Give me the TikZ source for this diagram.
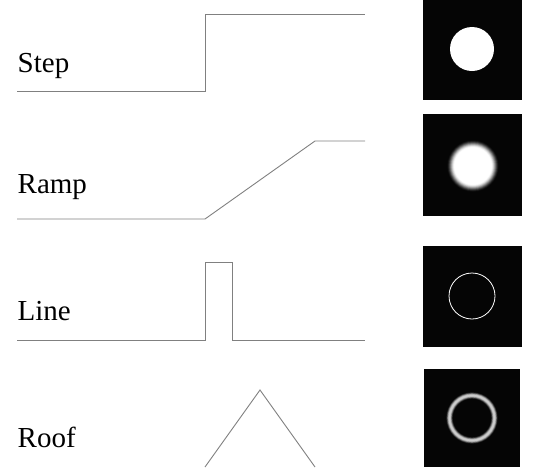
\documentclass[tikz,border=0pt]{standalone}
\usepackage{fontspec}
\setmainfont{Liberation Serif}
\definecolor{panelc}{RGB}{5,5,5}
\definecolor{ringc}{RGB}{205,205,205}
\tikzset{
  profile/.style={draw=black!50, line width=0.9pt, line join=miter},
  lbl/.style={anchor=base west, inner sep=0pt, font=\fontsize{29}{30}\selectfont},
  panel/.style={fill=panelc, draw=none},
}
\begin{document}
\begin{tikzpicture}[x=1pt,y=-1pt]
\useasboundingbox (0,0) rectangle (533,467);
% Step
\node[lbl] (tstep) at (17.5,72) {Step};
\draw[profile] (17,91) coordinate (s0) -- (205,91) -- (205,14) -- (365,14) coordinate (s1);
\fill[panel] (423,0) rectangle (522,100);
\fill[white] (472,49) circle (22);
% Ramp
\node[lbl] (tramp) at (17.5,193) {Ramp};
\draw[profile] (17,219) coordinate (r0) -- (205,219) -- (315,141) -- (365,141) coordinate (r1);
\fill[panel] (423,114) rectangle (522,216);
\foreach \i in {0,...,16}{
  \pgfmathsetmacro\rr{26.5-0.5*\i}
  \pgfmathsetmacro\tt{\i/16}
  \pgfmathsetmacro\pp{100*\tt*\tt*(3-2*\tt)}
  \fill[white!\pp!panelc] (473,166) circle (\rr);
}
% Line
\node[lbl] (tline) at (17.5,320) {Line};
\draw[profile] (17,340) coordinate (l0) -- (205,340) -- (205,262) -- (232,262) -- (232,340) -- (365,340) coordinate (l1);
\fill[panel] (423,246) rectangle (522,347);
\draw[white, line width=0.8pt] (472,296) circle (23);
% Roof
\node[lbl] (troof) at (17.5,447) {Roof};
\draw[profile] (205,467) coordinate (f0) -- (260,390) -- (315,467) coordinate (f1);
\fill[panel] (424,369) rectangle (520,467);
\foreach \i in {0,...,12}{
  \pgfmathsetmacro\ww{7.5-0.55*\i}
  \pgfmathsetmacro\tt{\i/12}
  \pgfmathsetmacro\pp{100*\tt*\tt*(3-2*\tt)}
  \draw[ringc!\pp!panelc, line width=\ww pt] (472,418) circle (22.5);
}
\end{tikzpicture}
\end{document}
